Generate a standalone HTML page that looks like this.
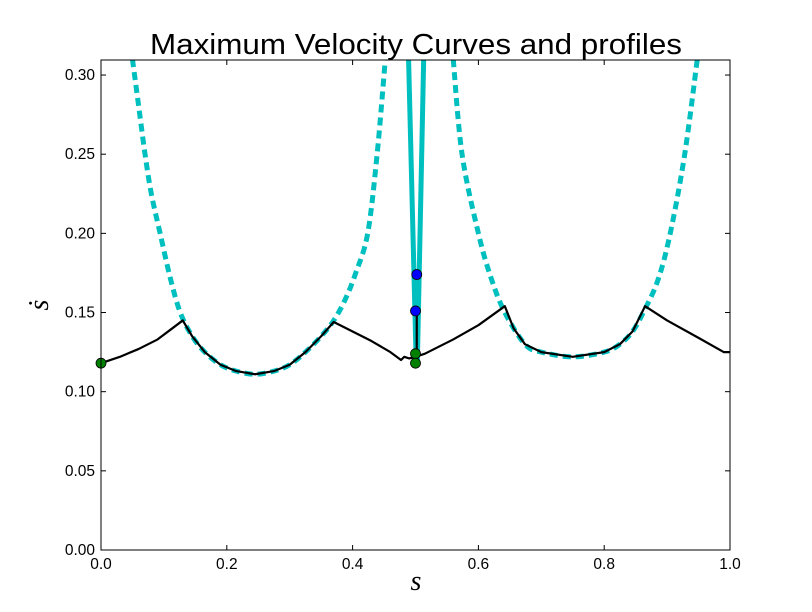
<!DOCTYPE html>
<html><head><meta charset="utf-8"><style>
body{margin:0;background:#fff;}
svg{display:block;font-family:"Liberation Sans",sans-serif;}
</style></head><body>
<svg id="chart" width="812" height="612"></svg>
<script>
const xTicks=[0,0.2,0.4,0.6,0.8,1.0];
const xTickLabels=["0.0","0.2","0.4","0.6","0.8","1.0"];
const yTicks=[0,0.05,0.10,0.15,0.20,0.25,0.30];
const yTickLabels=["0.00","0.05","0.10","0.15","0.20","0.25","0.30"];
const mvcLeftS=[0.05,0.06,0.07,0.08,0.094,0.11,0.126,0.145,0.165,0.19,0.215,0.245,0.275,0.30,0.325,0.35,0.37,0.388,0.405,0.424,0.439,0.452];
const mvcLeftV=[0.31,0.28,0.25,0.225,0.20,0.172,0.15,0.135,0.125,0.117,0.113,0.111,0.113,0.117,0.125,0.135,0.145,0.158,0.175,0.20,0.25,0.31];
const mvcRightS=[0.56,0.574,0.60,0.62,0.642,0.674,0.70,0.75,0.80,0.825,0.845,0.862,0.885,0.905,0.928,0.948];
const mvcRightV=[0.31,0.25,0.20,0.172,0.15,0.13,0.125,0.122,0.125,0.13,0.138,0.15,0.17,0.20,0.25,0.31];
const swingLeftS=[0.489,0.501];const swingLeftV=[0.31,0.12];
const swingRightS=[0.513,0.503];const swingRightV=[0.31,0.12];
const profileS=[0,0.03,0.06,0.09,0.11,0.13,0.145,0.165,0.19,0.215,0.245,0.275,0.30,0.325,0.35,0.37,0.40,0.43,0.46,0.477,0.482,0.49,0.50,0.515,0.53,0.56,0.60,0.642,0.656,0.674,0.70,0.75,0.80,0.825,0.845,0.865,0.90,0.95,0.99,1.0];
const profileV=[0.118,0.122,0.127,0.133,0.139,0.145,0.135,0.125,0.117,0.113,0.111,0.113,0.117,0.125,0.135,0.144,0.138,0.132,0.125,0.120,0.122,0.121,0.122,0.124,0.127,0.133,0.142,0.154,0.14,0.13,0.125,0.122,0.125,0.13,0.138,0.154,0.145,0.134,0.125,0.125];
const vertS=[0.502,0.502];const vertV=[0.151,0.124];
const blueS=[0.502,0.500];const blueV=[0.174,0.151];
const greenS=[0.500,0.500,0];const greenV=[0.124,0.118,0.118];

const L=101,R=730,T=60,B=550,yMax=0.3095;
const X=s=>L+s*(R-L);
const Y=v=>B-v/yMax*(B-T);
const svg=document.getElementById('chart');
const NS="http://www.w3.org/2000/svg";
function mk(tag,attrs,parent){const e=document.createElementNS(NS,tag);for(const k in attrs)e.setAttribute(k,attrs[k]);(parent||svg).appendChild(e);return e;}
const defs=mk('defs',{});const cp=mk('clipPath',{id:'clip'},defs);mk('rect',{x:L,y:T,width:R-L,height:B-T},cp);
const plot=mk('g',{'clip-path':'url(#clip)'});
function smoothPath(sArr,vArr,smooth){const p=sArr.map((s,i)=>[X(s),Y(vArr[i])]);
let d='M'+p[0][0]+','+p[0][1];
for(let i=0;i<p.length-1;i++){
 if(!smooth){d+=' L'+p[i+1][0]+','+p[i+1][1];continue;}
 const p0=p[Math.max(0,i-1)],p1=p[i],p2=p[i+1],p3=p[Math.min(p.length-1,i+2)];
 const c1=[p1[0]+(p2[0]-p0[0])/6,p1[1]+(p2[1]-p0[1])/6],c2=[p2[0]-(p3[0]-p1[0])/6,p2[1]-(p3[1]-p1[1])/6];
 d+=' C'+c1+' '+c2+' '+p2;}
return d;}
function line(sArr,vArr,style,name,smooth){const p=mk('path',Object.assign({d:smoothPath(sArr,vArr,smooth),fill:'none','stroke-linejoin':'round'},style),plot);

}
line(mvcLeftS,mvcLeftV,{stroke:'#00bfbf','stroke-width':5,'stroke-dasharray':'8,5'},'mvc-left-dashed',true);
line(mvcRightS,mvcRightV,{stroke:'#00bfbf','stroke-width':5,'stroke-dasharray':'8,5'},'mvc-right-dashed',true);
line(swingLeftS,swingLeftV,{stroke:'#00bfbf','stroke-width':5},'switch-line-left',false);
line(swingRightS,swingRightV,{stroke:'#00bfbf','stroke-width':5},'switch-line-right',false);
line(profileS,profileV,{stroke:'#000','stroke-width':2.2},'velocity-profile',false);
line(vertS,vertV,{stroke:'#000','stroke-width':2.2},'vertical-profile',false);
function dots(sArr,vArr,fill,name){sArr.forEach((s,i)=>{const c=mk('circle',{cx:X(s),cy:Y(vArr[i]),r:5,fill:fill,stroke:'#000','stroke-width':0.8},svg);

});}
dots(blueS,blueV,'#0000ff','blue-point');
dots(greenS,greenV,'#008000','green-point');
mk('rect',{x:L,y:T,width:R-L,height:B-T,fill:'none',stroke:'#000','stroke-width':1});
xTicks.forEach((t,i)=>{const x=X(t);mk('line',{x1:x,x2:x,y1:B,y2:B-5,stroke:'#000'});mk('line',{x1:x,x2:x,y1:T,y2:T+5,stroke:'#000'});
const tx=mk('text',{x:x,y:B+19,'text-anchor':'middle','font-size':15.5});tx.textContent=xTickLabels[i];

});
yTicks.forEach((t,i)=>{const y=Y(t);mk('line',{x1:L,x2:L+5,y1:y,y2:y,stroke:'#000'});mk('line',{x1:R,x2:R-5,y1:y,y2:y,stroke:'#000'});
const tx=mk('text',{x:L-6,y:y+5,'text-anchor':'end','font-size':15.5});tx.textContent=yTickLabels[i];

});
</script>
<svg style="position:absolute;left:0;top:0" width="812" height="612">
<text x="416" y="54" text-anchor="middle" font-size="28.5" textLength="532" lengthAdjust="spacingAndGlyphs" font-family="Liberation Sans,sans-serif">Maximum Velocity Curves and profiles</text>
<text x="416" y="590" text-anchor="middle" font-size="28" font-style="italic" font-family="Liberation Serif,serif">s</text>
<text x="48" y="305" text-anchor="middle" font-size="28" font-style="italic" font-family="Liberation Serif,serif" transform="rotate(-90 48 305)">ṡ</text>
</svg>
</body></html>
